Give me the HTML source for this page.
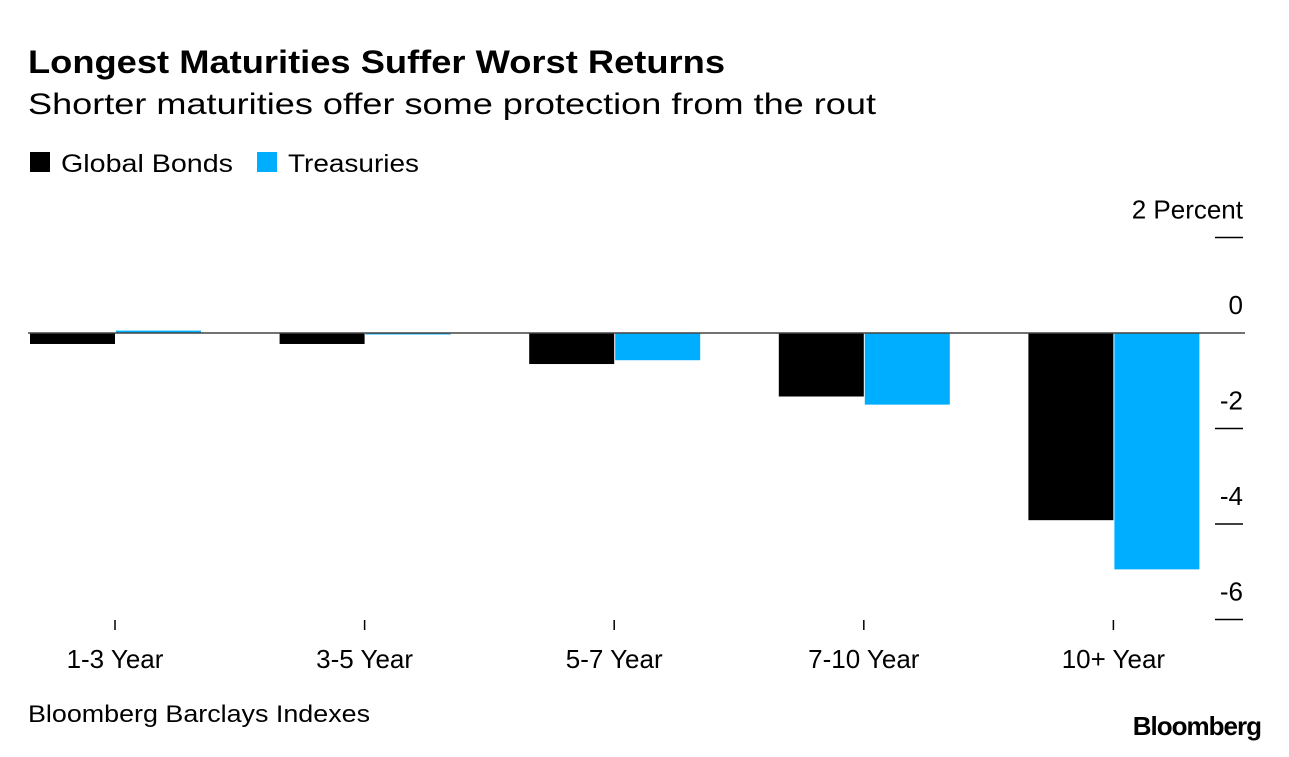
<!DOCTYPE html>
<html><head><meta charset="utf-8"><style>
body{margin:0;background:#fff;font-family:"Liberation Sans",sans-serif;}
svg text{font-family:"Liberation Sans",sans-serif;}
</style></head><body>
<svg width="1289" height="752">
<text x="28" y="73" font-size="32" font-weight="bold" fill="#000" textLength="697" lengthAdjust="spacingAndGlyphs">Longest Maturities Suffer Worst Returns</text>
<text x="28" y="114" font-size="30" fill="#000" textLength="848" lengthAdjust="spacingAndGlyphs">Shorter maturities offer some protection from the rout</text>
<g>
<rect x="30" y="152" width="20" height="20" fill="#000"/>
<text x="61" y="172" font-size="25" textLength="172" lengthAdjust="spacingAndGlyphs">Global Bonds</text>
<rect x="257" y="152" width="20" height="20" fill="#00aeff"/>
<text x="288" y="172" font-size="25" textLength="131" lengthAdjust="spacingAndGlyphs">Treasuries</text>
</g>
<g id="plot"></g>
<text x="28" y="722" font-size="24" textLength="342" lengthAdjust="spacingAndGlyphs">Bloomberg Barclays Indexes</text>
<text x="1261" y="735" font-size="26" font-weight="bold" text-anchor="end" letter-spacing="-1">Bloomberg</text>
</svg>
<script>
const categories=["1-3 Year","3-5 Year","5-7 Year","7-10 Year","10+ Year"];
const globalBonds=[-0.23,-0.23,-0.65,-1.33,-3.92];
const treasuries=[0.05,-0.03,-0.57,-1.5,-4.95];
const yTicks=[2,0,-2,-4,-6];
const yTickLabels=["2 Percent","0","-2","-4","-6"];
const NS="http://www.w3.org/2000/svg";
const plot=document.getElementById('plot');
const y=v=>333-v*47.75;
const xc=i=>115+i*249.6;
function mk(t,a){const e=document.createElementNS(NS,t);for(const k in a)e.setAttribute(k,a[k]);plot.appendChild(e);return e;}
yTicks.forEach((t,i)=>{
 if(t!==0){const l=mk('line',{x1:1215,x2:1243,y1:y(t),y2:y(t),stroke:'#000','stroke-width':1.5});
 
 }
 const tx=mk('text',{x:1243,y:y(t)-19,'font-size':26,'text-anchor':'end'});tx.textContent=yTickLabels[i];
 
 
});
categories.forEach((c,i)=>{
 const g=globalBonds[i],t=treasuries[i];
 const b1=mk('rect',{x:xc(i)-85,y:Math.min(y(0),y(g)),width:85,height:Math.abs(y(g)-y(0)),fill:'#000'});
 
 
 const b2=mk('rect',{x:xc(i)+1,y:Math.min(y(0),y(t)),width:85,height:Math.max(1.5,Math.abs(y(t)-y(0))),fill:'#00aeff'});
 
 
 const tk=mk('line',{x1:xc(i),x2:xc(i),y1:620,y2:630,stroke:'#000','stroke-width':1.5});
 
 
 const lb=mk('text',{x:xc(i),y:668,'font-size':26,'text-anchor':'middle'});lb.textContent=c;
 
 
});
const z=mk('line',{x1:28,x2:1245,y1:y(0),y2:y(0),stroke:'#444','stroke-width':1.5});


</script>
</body></html>
